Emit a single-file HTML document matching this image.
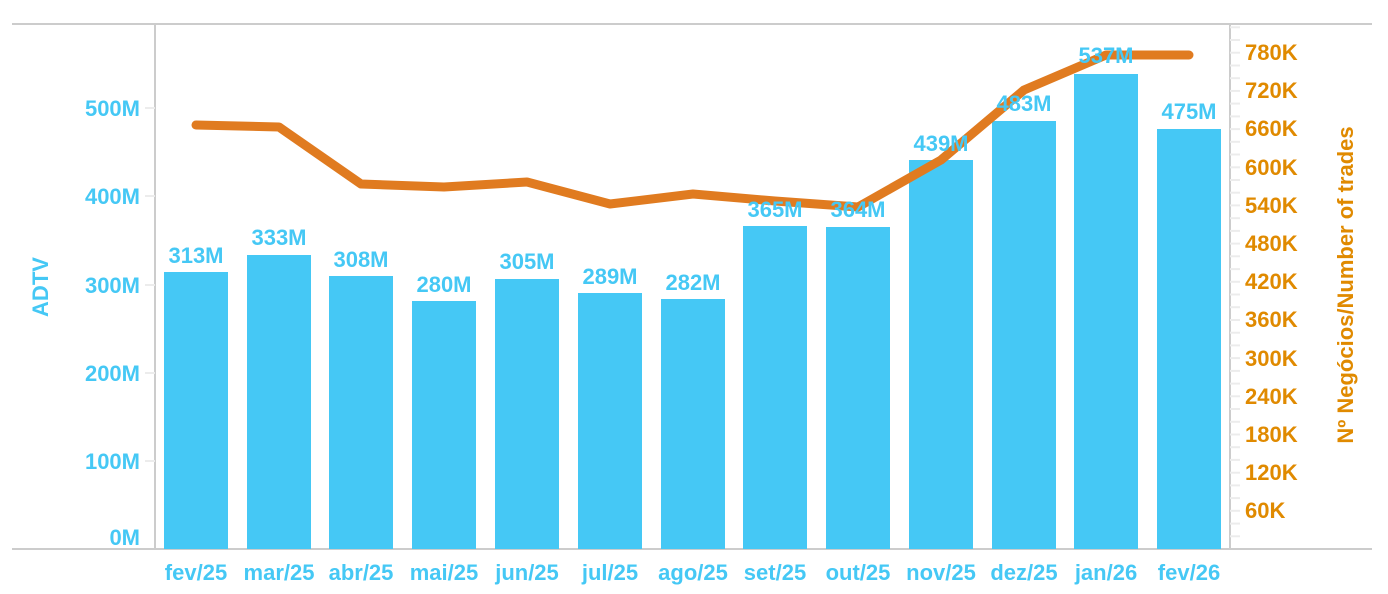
<!DOCTYPE html>
<html><head><meta charset="utf-8"><style>
html,body{margin:0;padding:0;background:#fff;}
svg{display:block;font-family:"Liberation Sans",Arial,sans-serif;font-weight:bold;}
</style></head><body>
<svg width="1388" height="594" viewBox="0 0 1388 594" xmlns="http://www.w3.org/2000/svg">
<g stroke="#cccccc" stroke-width="2" fill="none">
<line x1="12" y1="24" x2="1372" y2="24"/>
<line x1="12" y1="549" x2="1372" y2="549"/>
<line x1="155" y1="24" x2="155" y2="549"/>
<line x1="1230" y1="24" x2="1230" y2="549"/>
</g>
<g stroke="#ececec" stroke-width="2">
<line x1="145" y1="108" x2="155" y2="108"/>
<line x1="145" y1="196" x2="155" y2="196"/>
<line x1="145" y1="285" x2="155" y2="285"/>
<line x1="145" y1="373" x2="155" y2="373"/>
<line x1="145" y1="461" x2="155" y2="461"/>
<line x1="1230" y1="536.3" x2="1240" y2="536.3"/><line x1="1230" y1="523.6" x2="1240" y2="523.6"/><line x1="1230" y1="510.8" x2="1240" y2="510.8"/><line x1="1230" y1="498.1" x2="1240" y2="498.1"/><line x1="1230" y1="485.4" x2="1240" y2="485.4"/><line x1="1230" y1="472.7" x2="1240" y2="472.7"/><line x1="1230" y1="459.9" x2="1240" y2="459.9"/><line x1="1230" y1="447.2" x2="1240" y2="447.2"/><line x1="1230" y1="434.5" x2="1240" y2="434.5"/><line x1="1230" y1="421.8" x2="1240" y2="421.8"/><line x1="1230" y1="409" x2="1240" y2="409"/><line x1="1230" y1="396.3" x2="1240" y2="396.3"/><line x1="1230" y1="383.6" x2="1240" y2="383.6"/><line x1="1230" y1="370.9" x2="1240" y2="370.9"/><line x1="1230" y1="358.1" x2="1240" y2="358.1"/><line x1="1230" y1="345.4" x2="1240" y2="345.4"/><line x1="1230" y1="332.7" x2="1240" y2="332.7"/><line x1="1230" y1="320" x2="1240" y2="320"/><line x1="1230" y1="307.2" x2="1240" y2="307.2"/><line x1="1230" y1="294.5" x2="1240" y2="294.5"/><line x1="1230" y1="281.8" x2="1240" y2="281.8"/><line x1="1230" y1="269.1" x2="1240" y2="269.1"/><line x1="1230" y1="256.3" x2="1240" y2="256.3"/><line x1="1230" y1="243.6" x2="1240" y2="243.6"/><line x1="1230" y1="230.9" x2="1240" y2="230.9"/><line x1="1230" y1="218.2" x2="1240" y2="218.2"/><line x1="1230" y1="205.4" x2="1240" y2="205.4"/><line x1="1230" y1="192.7" x2="1240" y2="192.7"/><line x1="1230" y1="180" x2="1240" y2="180"/><line x1="1230" y1="167.3" x2="1240" y2="167.3"/><line x1="1230" y1="154.5" x2="1240" y2="154.5"/><line x1="1230" y1="141.8" x2="1240" y2="141.8"/><line x1="1230" y1="129.1" x2="1240" y2="129.1"/><line x1="1230" y1="116.4" x2="1240" y2="116.4"/><line x1="1230" y1="103.6" x2="1240" y2="103.6"/><line x1="1230" y1="90.9" x2="1240" y2="90.9"/><line x1="1230" y1="78.2" x2="1240" y2="78.2"/><line x1="1230" y1="65.5" x2="1240" y2="65.5"/><line x1="1230" y1="52.7" x2="1240" y2="52.7"/><line x1="1230" y1="40" x2="1240" y2="40"/><line x1="1230" y1="27.3" x2="1240" y2="27.3"/>
</g>
<g fill="#45c8f5">
<rect x="164" y="272" width="64" height="277"/>
<rect x="247" y="255" width="64" height="294"/>
<rect x="329" y="276" width="64" height="273"/>
<rect x="412" y="301" width="64" height="248"/>
<rect x="495" y="279" width="64" height="270"/>
<rect x="578" y="293" width="64" height="256"/>
<rect x="661" y="299" width="64" height="250"/>
<rect x="743" y="226" width="64" height="323"/>
<rect x="826" y="227" width="64" height="322"/>
<rect x="909" y="160" width="64" height="389"/>
<rect x="992" y="121" width="64" height="428"/>
<rect x="1074" y="74" width="64" height="475"/>
<rect x="1157" y="129" width="64" height="420"/>
</g>
<polyline fill="none" stroke="#e07b20" stroke-width="9" stroke-linecap="round" stroke-linejoin="round"
points="196,125 279,127 361,184 444,187 527,182 610,204 693,194 775,201 858,207 941,160 1024,90 1106,55 1189,55"/>
<g fill="#45c8f5" font-size="22" text-anchor="middle">
<text x="196" y="263">313M</text>
<text x="279" y="245">333M</text>
<text x="361" y="267">308M</text>
<text x="444" y="292">280M</text>
<text x="527" y="269">305M</text>
<text x="610" y="284">289M</text>
<text x="693" y="290">282M</text>
<text x="775" y="217">365M</text>
<text x="858" y="217">364M</text>
<text x="941" y="151">439M</text>
<text x="1024" y="111">483M</text>
<text x="1106" y="63">537M</text>
<text x="1189" y="119">475M</text>
</g>
<g fill="#45c8f5" font-size="22" text-anchor="end">
<text x="140" y="116">500M</text>
<text x="140" y="204">400M</text>
<text x="140" y="293">300M</text>
<text x="140" y="381">200M</text>
<text x="140" y="469">100M</text>
<text x="140" y="545">0M</text>
</g>
<g fill="#45c8f5" font-size="22" text-anchor="middle">
<text x="196" y="580">fev/25</text><text x="279" y="580">mar/25</text><text x="361" y="580">abr/25</text><text x="444" y="580">mai/25</text><text x="527" y="580">jun/25</text><text x="610" y="580">jul/25</text><text x="693" y="580">ago/25</text><text x="775" y="580">set/25</text><text x="858" y="580">out/25</text><text x="941" y="580">nov/25</text><text x="1024" y="580">dez/25</text><text x="1106" y="580">jan/26</text><text x="1189" y="580">fev/26</text>
</g>
<text x="48" y="287" fill="#45c8f5" font-size="22" text-anchor="middle" transform="rotate(-90 48 287)">ADTV</text>
<g fill="#e08a00" font-size="22">
<text x="1245" y="60">780K</text><text x="1245" y="98">720K</text><text x="1245" y="136">660K</text><text x="1245" y="175">600K</text><text x="1245" y="213">540K</text><text x="1245" y="251">480K</text><text x="1245" y="289">420K</text><text x="1245" y="327">360K</text><text x="1245" y="366">300K</text><text x="1245" y="404">240K</text><text x="1245" y="442">180K</text><text x="1245" y="480">120K</text><text x="1245" y="518">60K</text>
</g>
<text x="1353" y="285" fill="#e08a00" font-size="22" text-anchor="middle" transform="rotate(-90 1353 285)">Nº Negócios/Number of trades</text>
</svg>
</body></html>
